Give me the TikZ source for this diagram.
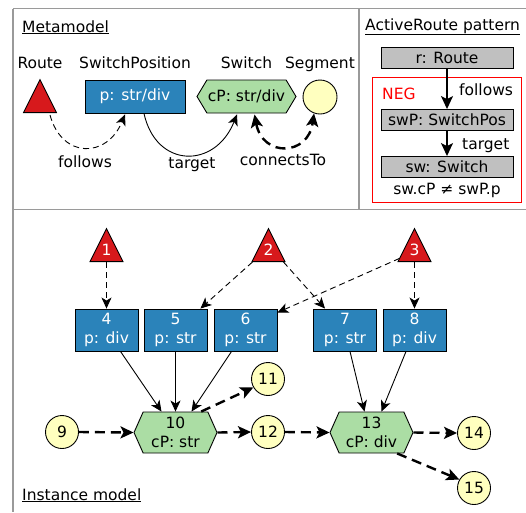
\documentclass[tikz,border=0pt]{standalone}
\usepackage{fontspec}
\setmainfont{DejaVu Sans}
\usetikzlibrary{shapes.geometric,shapes.symbols,arrows.meta}
\definecolor{tred}{HTML}{D7191C}
\definecolor{tblue}{HTML}{2B83BA}
\definecolor{tgreen}{HTML}{ABDDA4}
\definecolor{tyellow}{HTML}{FFFFBF}
\definecolor{tgray}{HTML}{C0C0C0}
\definecolor{framegray}{HTML}{9A9A9A}
\begin{document}
\begin{tikzpicture}[x=1pt,y=-1pt,font=\fontsize{15.5}{18.5}\selectfont,
  tri/.style={isosceles triangle, isosceles triangle stretches, shape border rotate=90,
    minimum width=33, minimum height=33, inner sep=0, fill=tred, draw=black, line width=0.9},
  bluebox/.style={rectangle, fill=tblue, draw=black, line width=0.9, text=white, inner sep=0,
    align=center},
  hexa/.style={signal, signal to=west and east, fill=tgreen, draw=black, line width=0.9,
    inner sep=0, align=center},
  seg/.style={circle, fill=tyellow, draw=black, line width=0.9, inner sep=0, minimum size=33},
  graybox/.style={rectangle, fill=tgray, draw=black, line width=0.9, inner sep=0,
    minimum width=132, minimum height=21},
  framel/.style={framegray, line width=1.5},
  thinarr/.style={line width=0.9, -{Stealth[length=11pt,width=10pt,inset=3pt]}},
  thindash/.style={thinarr, dash pattern=on 6pt off 4pt},
  thickdash/.style={line width=2.4, dash pattern=on 10pt off 6pt,
    -{Stealth[length=13pt,width=12pt,inset=3pt]}},
  patarr/.style={line width=1.4, -{Stealth[length=13pt,width=12pt,inset=3pt]}},
  lbl/.style={anchor=base, inner sep=0}
]
\useasboundingbox (0,0) rectangle (526,512);

% frame
\draw[framel] (13,8.5) -- (526,8.5);
\draw[framel] (13,8.5) -- (13,512);
\draw[framel] (13,209.5) -- (526,209.5);
\draw[framel] (359,8.5) -- (359,209.5);

% ---------- Metamodel ----------
\node[anchor=base west, inner sep=0] (tmm) at (22,32) {\underline{Metamodel}};
\node[lbl] (lroute) at (40,68) {Route};
\node[lbl] (lsp) at (135,68) {SwitchPosition};
\node[lbl] (lsw) at (246.5,68) {Switch};
\node[lbl] (lseg) at (320,68) {Segment};

\node[tri, anchor=south] (rt) at (40,113) {};
\node[bluebox, minimum width=100, minimum height=33] (sp) at (135,96.5) {p: str/div};
\node[hexa, minimum width=99, minimum height=33, signal pointer angle=118] (sw) at (246.5,96.5) {cP: str/div};
\node[seg, minimum size=34] (sg) at (320,97) {};

\draw[thindash] ([xshift=10,yshift=-2]rt.south) .. controls +(12,44) and +(-18,44) .. ([xshift=-10,yshift=-1]sp.south);
\draw[thinarr] ([xshift=9]sp.south) .. controls +(12,55) and +(-22,55) .. ([xshift=-9.5,yshift=-1]sw.south);
\draw[line width=2.4, dash pattern=on 10pt off 6pt, {Stealth[length=13pt,width=12pt,inset=3pt]}-{Stealth[length=13pt,width=12pt,inset=3pt]}]
  ([xshift=8,yshift=-1]sw.south) .. controls +(8,43) and +(-6,43) .. (sg.-110);
\node[lbl] (lfol) at (85,167) {follows};
\node[lbl] (ltar) at (192,168) {target};
\node[lbl] (lcon) at (283,165) {connectsTo};

% ---------- ActiveRoute pattern ----------
\node[anchor=base west, inner sep=0] (tpat) at (365,30) {\underline{ActiveRoute pattern}};
\node[graybox] (r) at (447,57.5) {r: Route};
\draw[red, line width=1] (372,77) rectangle (521,202);
\node[anchor=base west, inner sep=0, text=red] (neg) at (382,99) {NEG};
\node[graybox] (swp) at (447,120) {swP: SwitchPos};
\node[graybox] (sws) at (447,167) {sw: Switch};
\draw[patarr] (r.south) -- (swp.north);
\draw[patarr] (swp.south) -- (sws.north);
\node[anchor=base west, inner sep=0] (pfol) at (459,95) {follows};
\node[anchor=base west, inner sep=0] (ptar) at (462,149) {target};
\node[lbl] (cond) at (447,194) {sw.cP ≠ swP.p};

% ---------- Instance model ----------
\node[tri, anchor=south] (t1) at (106.5,262) {};
\node[tri, anchor=south] (t2) at (268.5,262) {};
\node[tri, anchor=south] (t3) at (414.5,262) {};
\node[text=white, inner sep=0] (n1) at ([yshift=12]t1.south) {1};
\node[text=white, inner sep=0] (n2) at ([yshift=12]t2.south) {2};
\node[text=white, inner sep=0] (n3) at ([yshift=12]t3.south) {3};

\node[bluebox, minimum width=63, minimum height=42] (b4) at (106.5,330) {4\\p: div};
\node[bluebox, minimum width=63, minimum height=42] (b5) at (175.5,330) {5\\p: str};
\node[bluebox, minimum width=63, minimum height=42] (b6) at (245.5,330) {6\\p: str};
\node[bluebox, minimum width=63, minimum height=42] (b7) at (345,330) {7\\p: str};
\node[bluebox, minimum width=63, minimum height=42] (b8) at (414.5,330) {8\\p: div};

\node[hexa, minimum width=83, minimum height=41, signal pointer angle=132] (h10) at (175.5,432.5) {10\\cP: str};
\node[hexa, minimum width=83, minimum height=41, signal pointer angle=132] (h13) at (371.5,432.5) {13\\cP: div};

\node[seg] (c9) at (62,432) {9};
\node[seg] (c11) at (268,379) {11};
\node[seg] (c12) at (268,432) {12};
\node[seg] (c14) at (474,433) {14};
\node[seg] (c15) at (474,488) {15};

\draw[thindash] (t1.south) -- (b4.north);
\draw[thindash] ([xshift=-16]t2.south) -- ([xshift=-7]b5.north east);
\draw[thindash] ([xshift=15]t2.south) -- ([xshift=-20]b7.north);
\draw[thindash] ([xshift=-3,yshift=-7]t3.west) -- ([yshift=-4]b6.north east);
\draw[thindash] (t3.south) -- (b8.north);

\draw[thinarr] ([xshift=14]b4.south) -- ([xshift=-14]h10.north);
\draw[thinarr] (b5.south) -- (h10.north);
\draw[thinarr] ([xshift=-14]b6.south) -- ([xshift=16]h10.north);
\draw[thinarr] ([xshift=5]b7.south) -- ([xshift=-7]h13.north);
\draw[thinarr] ([xshift=-8.5]b8.south) -- ([xshift=10]h13.north);

\draw[thickdash] (c9.east) -- (h10.west);
\draw[thickdash] (h10.east) -- (c12.west);
\draw[thickdash] ([xshift=-7]h10.north east) -- (c11.-150);
\draw[thickdash] (c12.east) -- (h13.west);
\draw[thickdash] (h13.east) -- (c14.west);
\draw[thickdash] ([xshift=-7]h13.south east) -- (c15.150);

\node[anchor=base west, inner sep=0] (tinst) at (22,500) {\underline{Instance model}};
\end{tikzpicture}
\end{document}
